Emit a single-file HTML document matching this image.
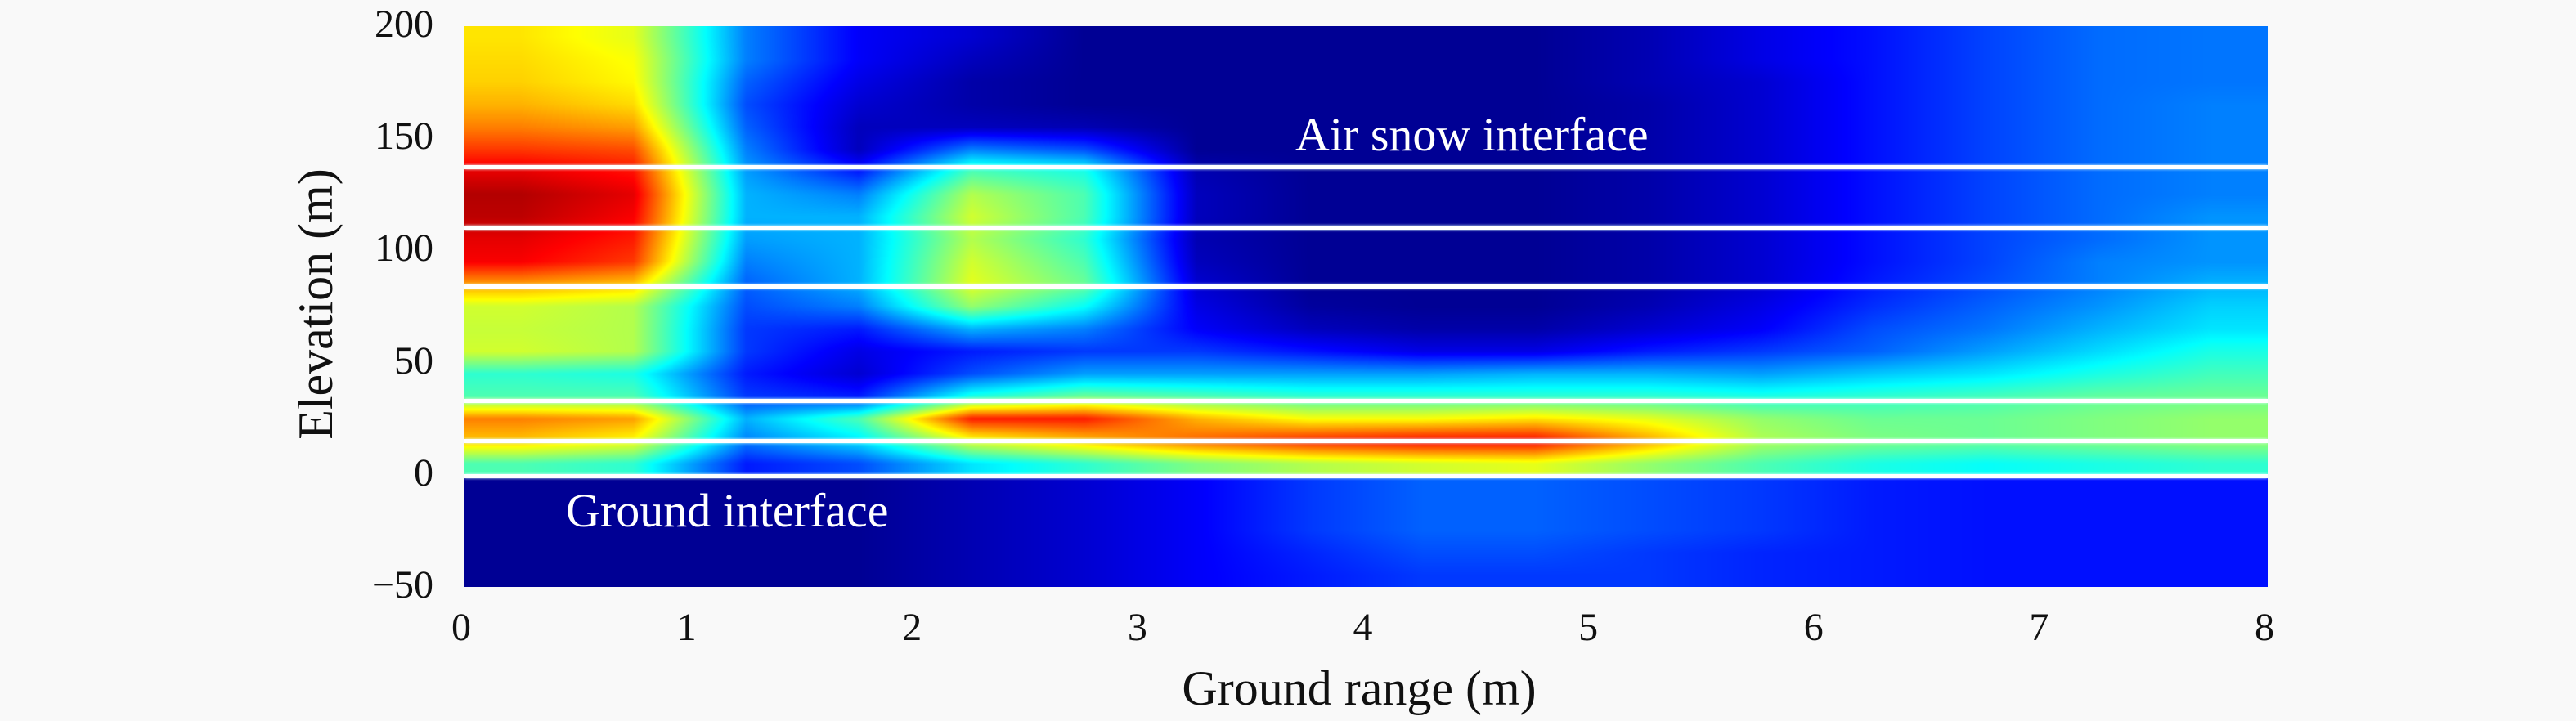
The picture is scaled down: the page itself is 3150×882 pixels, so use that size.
<!DOCTYPE html>
<html><head><meta charset="utf-8"><style>
html,body{margin:0;padding:0;background:#f9f9f9;}
#root{position:relative;width:3150px;height:882px;background:#f9f9f9;font-family:"Liberation Serif",serif;color:#111;}
canvas{position:absolute;left:568px;top:32px;width:2205px;height:686px;}
.t{position:absolute;font-size:48px;line-height:1;}
.yt{right:2620px;text-align:right;}
.xt{top:744px;transform:translateX(-50%);}
.iline{position:absolute;left:568px;width:2205px;height:5px;background:#fff;box-shadow:0 0 3px #dff;}
</style></head><body>
<div id="root">
<canvas id="hm" width="2205" height="686"></canvas>
<div id="lines"></div>
<div class="t" style="left:1584px;top:136px;color:#fff;font-size:58px;">Air snow interface</div>
<div class="t" style="left:692px;top:596px;color:#fff;font-size:58px;">Ground interface</div>
<div id="ticks"></div>
<div class="t" style="left:1662px;top:812px;transform:translateX(-50%);font-size:60px;white-space:nowrap;">Ground range (m)</div>
<div class="t" style="left:386px;top:372px;transform:translate(-50%,-50%) rotate(-90deg);font-size:60px;white-space:nowrap;">Elevation (m)</div>
</div>
<script>
const xTicks=[0,1,2,3,4,5,6,7,8];
const yTicks=[200,150,100,50,0,-50];
const interfaces=[137,110,84,33,15,-0.5];
const colCenters=[0.25,0.75,1.25,1.75,2.25,2.75,3.25,3.75,4.25,4.75,5.25,5.75,6.25,6.75,7.25,7.75];
const rowCenters=[195,185,175,165,155,145,135,125,115,105,95,85,75,65,55,45,35,25,15,5,-5,-15,-25,-35,-45];
const intensity=[
[.65,.60,.25,.12,.08,.02,.02,.02,.02,.02,.05,.10,.14,.19,.23,.24],
[.66,.62,.25,.12,.06,.02,.02,.02,.02,.02,.05,.10,.14,.19,.23,.24],
[.67,.63,.22,.10,.04,.02,.02,.02,.02,.02,.05,.08,.14,.19,.23,.24],
[.70,.66,.20,.08,.04,.02,.02,.02,.02,.02,.04,.08,.14,.19,.23,.25],
[.75,.72,.22,.06,.06,.05,.02,.02,.02,.02,.04,.08,.14,.19,.23,.25],
[.82,.80,.25,.06,.25,.20,.02,.02,.02,.02,.04,.08,.14,.19,.23,.25],
[.90,.86,.28,.15,.45,.40,.05,.02,.02,.02,.04,.08,.14,.19,.23,.25],
[.95,.90,.30,.25,.55,.45,.06,.02,.02,.02,.04,.08,.14,.19,.23,.25],
[.94,.88,.30,.30,.58,.45,.06,.02,.02,.02,.04,.08,.14,.19,.23,.27],
[.90,.85,.28,.30,.55,.42,.05,.02,.02,.02,.04,.08,.14,.19,.23,.27],
[.88,.82,.25,.30,.58,.45,.06,.02,.02,.02,.04,.08,.14,.19,.25,.27],
[.72,.68,.22,.30,.60,.48,.08,.02,.02,.02,.04,.08,.15,.20,.25,.30],
[.58,.55,.20,.25,.52,.38,.10,.03,.02,.02,.05,.10,.17,.22,.27,.33],
[.57,.55,.18,.15,.30,.25,.12,.06,.04,.04,.08,.12,.20,.24,.30,.35],
[.58,.55,.18,.10,.15,.18,.18,.14,.10,.10,.15,.18,.22,.28,.34,.40],
[.42,.40,.15,.08,.20,.28,.28,.28,.28,.30,.30,.28,.32,.35,.40,.44],
[.45,.45,.18,.15,.40,.48,.45,.42,.42,.42,.42,.40,.42,.44,.47,.48],
[.75,.72,.30,.45,.85,.85,.70,.62,.62,.65,.60,.52,.48,.48,.50,.52],
[.68,.62,.25,.35,.60,.68,.78,.85,.88,.88,.72,.55,.50,.48,.50,.52],
[.45,.42,.15,.20,.35,.42,.50,.55,.58,.60,.52,.45,.40,.38,.40,.42],
[.02,.02,.02,.02,.05,.08,.12,.18,.22,.22,.20,.18,.15,.14,.14,.14],
[.02,.02,.02,.02,.05,.08,.12,.18,.22,.22,.20,.18,.15,.14,.14,.14],
[.02,.02,.02,.02,.05,.08,.12,.18,.22,.22,.20,.18,.15,.14,.14,.14],
[.02,.02,.02,.02,.05,.08,.12,.16,.20,.20,.18,.16,.15,.14,.14,.14],
[.02,.02,.02,.02,.05,.08,.12,.15,.18,.18,.18,.16,.15,.14,.14,.14]
];
const X0=568,X1=2773,Y0=32,Y1=718,XMIN=0,XMAX=8,YMIN=-50,YMAX=200;
function xs(v){return X0+(v-XMIN)/(XMAX-XMIN)*(X1-X0);}
function ys(v){return Y1-(v-YMIN)/(YMAX-YMIN)*(Y1-Y0);}
function xinv(p){return XMIN+(p-X0)/(X1-X0)*(XMAX-XMIN);}
function yinv(p){return YMIN+(Y1-p)/(Y1-Y0)*(YMAX-YMIN);}
function jet(v){
  function c(x){return Math.max(0,Math.min(1,x));}
  return [c(1.5-Math.abs(4*v-3))*255,c(1.5-Math.abs(4*v-2))*255,c(1.5-Math.abs(4*v-1))*255];
}
function interp1(arr,val){
  const n=arr.length;
  if(val<=arr[0])return[0,0,0];
  if(val>=arr[n-1])return[n-1,n-1,0];
  for(let i=0;i<n-1;i++)if(val<=arr[i+1])return[i,i+1,(val-arr[i])/(arr[i+1]-arr[i])];
  return[n-1,n-1,0];
}
const cv=document.getElementById('hm');
const ctx=cv.getContext('2d');
const W=cv.width,H=cv.height;
const img=ctx.createImageData(W,H);
const upIdx=[],dnIdx=[];
rowCenters.forEach(function(r,i){(r>0?upIdx:dnIdx).push(i);});
function rowInterp(idxs,e){
  const first=rowCenters[idxs[0]],last=rowCenters[idxs[idxs.length-1]];
  if(e>=first)return[idxs[0],idxs[0],0];
  if(e<=last)return[idxs[idxs.length-1],idxs[idxs.length-1],0];
  for(let k=0;k<idxs.length-1;k++){
    const a=rowCenters[idxs[k]],b=rowCenters[idxs[k+1]];
    if(e<=a&&e>=b)return[idxs[k],idxs[k+1],(a-e)/(a-b)];
  }
  return[idxs[0],idxs[0],0];
}
const colInfo=[];
for(let px=0;px<W;px++)colInfo.push(interp1(colCenters,xinv(X0+px+0.5)));
for(let py=0;py<H;py++){
  const e=yinv(Y0+py+0.5);
  const ri=rowInterp(e>=0?upIdx:dnIdx,e);
  const ra=intensity[ri[0]],rb=intensity[ri[1]],rt=ri[2];
  for(let px=0;px<W;px++){
    const ci=colInfo[px];
    const va=ra[ci[0]]*(1-ci[2])+ra[ci[1]]*ci[2];
    const vb=rb[ci[0]]*(1-ci[2])+rb[ci[1]]*ci[2];
    const col=jet(va*(1-rt)+vb*rt);
    const k=(py*W+px)*4;
    img.data[k]=col[0];img.data[k+1]=col[1];img.data[k+2]=col[2];img.data[k+3]=255;
  }
}
ctx.putImageData(img,0,0);
const lines=document.getElementById('lines');
interfaces.forEach(function(e){
  const d=document.createElement('div');
  d.className='iline';
  d.style.top=(ys(e)-2.5)+'px';
  
  
  lines.appendChild(d);
});
const ticks=document.getElementById('ticks');
yTicks.forEach(function(v){
  const d=document.createElement('div');
  d.className='t yt';
  d.style.top=(ys(v)-26)+'px';
  d.textContent=v<0?'\u2212'+Math.abs(v):String(v);
  
  
  ticks.appendChild(d);
});
xTicks.forEach(function(v){
  const d=document.createElement('div');
  d.className='t xt';
  d.style.left=(xs(v)-4)+'px';
  d.textContent=String(v);
  
  
  ticks.appendChild(d);
});
</script>
</body></html>
